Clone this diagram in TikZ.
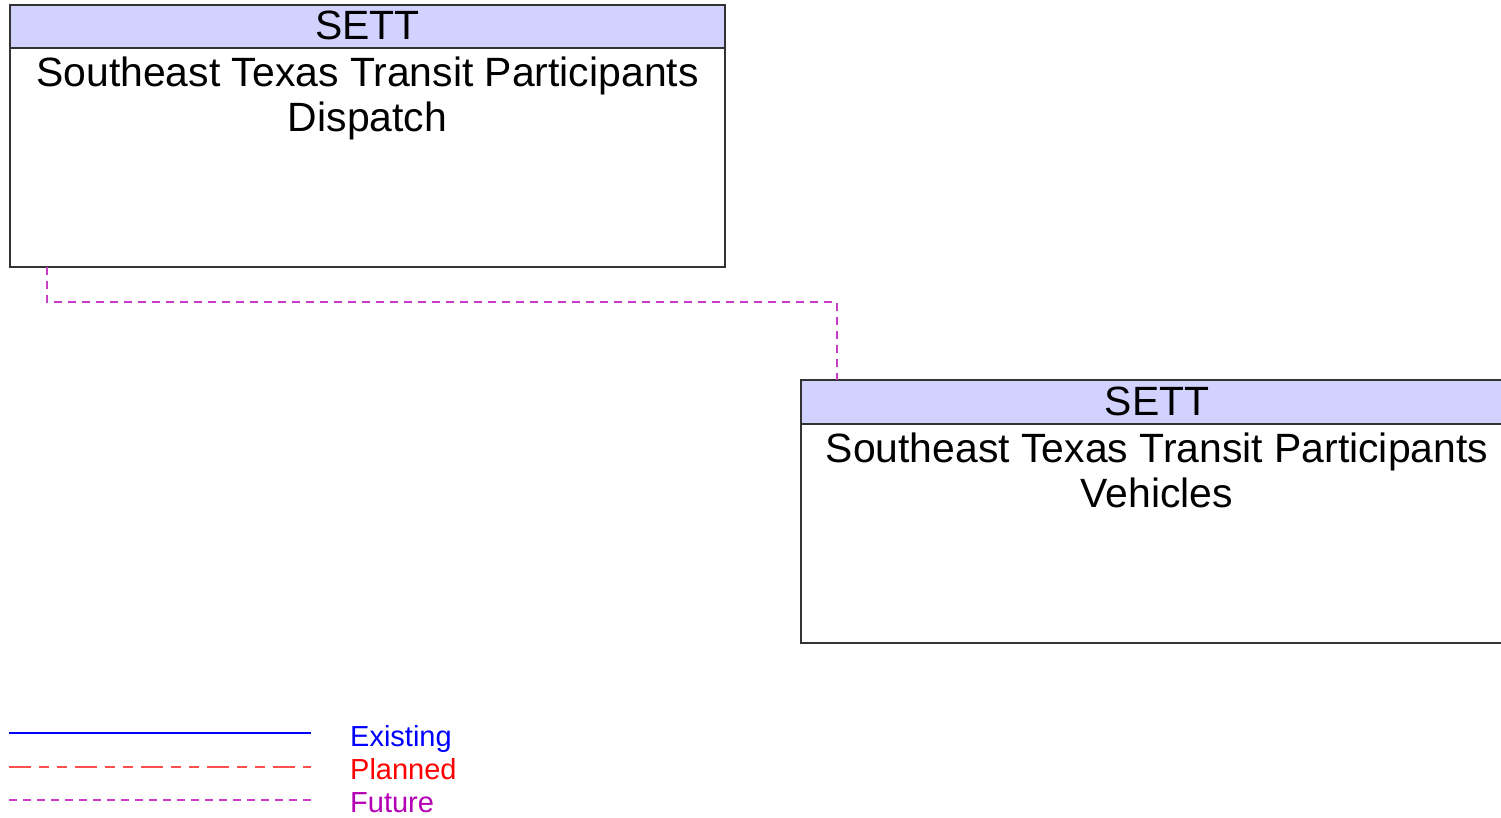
\documentclass[tikz,border=0pt]{standalone}
\usepackage{fontspec}
\setmainfont{Liberation Sans}
\definecolor{hdr}{RGB}{210,210,255}
\definecolor{futurec}{RGB}{200,60,200}
\definecolor{futuretxt}{RGB}{180,0,180}
\definecolor{plannedc}{RGB}{255,80,80}
\begin{document}
\begin{tikzpicture}[x=1pt,y=-1pt,
  boxframe/.style={draw=black!80,line width=1.2pt},
  hdrbox/.style={fill=hdr,draw=black!80,line width=1.2pt},
  bigtxt/.style={font=\fontsize{40.9}{45}\selectfont,anchor=base,inner sep=0pt,align=center},
  legtxt/.style={font=\fontsize{29}{32}\selectfont,anchor=base west,inner sep=0pt},
  futureline/.style={draw=futurec,line width=1.2pt,dash pattern=on 8pt off 6pt},
]
\useasboundingbox (0,0) rectangle (1501,817);
\clip (0,0) rectangle (1501,817);
% box 1
\draw[boxframe,fill=white] (10,5) rectangle (725,267);
\draw[hdrbox] (10,5) rectangle (725,48);
\node[bigtxt] (h1) at (367.5,39.5) {SETT};
\node[bigtxt] (t1) at (367.5,86.5) {Southeast Texas Transit Participants};
\node[bigtxt] (t1b) at (367.5,131.5) {Dispatch};
\coordinate (b1) at (47,267);
% box 2
\draw[boxframe,fill=white] (801,380) rectangle (1516,643);
\draw[hdrbox] (801,380) rectangle (1516,424);
\node[bigtxt] (h2) at (1157,415) {SETT};
\node[bigtxt] (t2) at (1157,462) {Southeast Texas Transit Participants};
\node[bigtxt] (t2b) at (1157,507) {Vehicles};
\coordinate (b2) at (837,380);
% connector
\draw[futureline] (b1) -- (47,302) -- (837,302) -- (b2);
% legend
\coordinate (e0) at (9,733); \coordinate (e1) at (311,733);
\coordinate (p0) at (9,767); \coordinate (p1) at (311,767);
\coordinate (f0) at (9,800); \coordinate (f1) at (311,800);
\draw[blue,line width=2.6pt] (e0) -- (e1);
\draw[plannedc,line width=1.4pt,dash pattern=on 22pt off 8pt on 10pt off 8pt on 10pt off 8pt] (p0) -- (p1);
\draw[futureline] (f0) -- (f1);
\node[legtxt,text=blue] (le) at (350,746) {Existing};
\node[legtxt,text=red] (lp) at (350,779) {Planned};
\node[legtxt,text=futuretxt] (lf) at (350,812) {Future};
\end{tikzpicture}
\end{document}
